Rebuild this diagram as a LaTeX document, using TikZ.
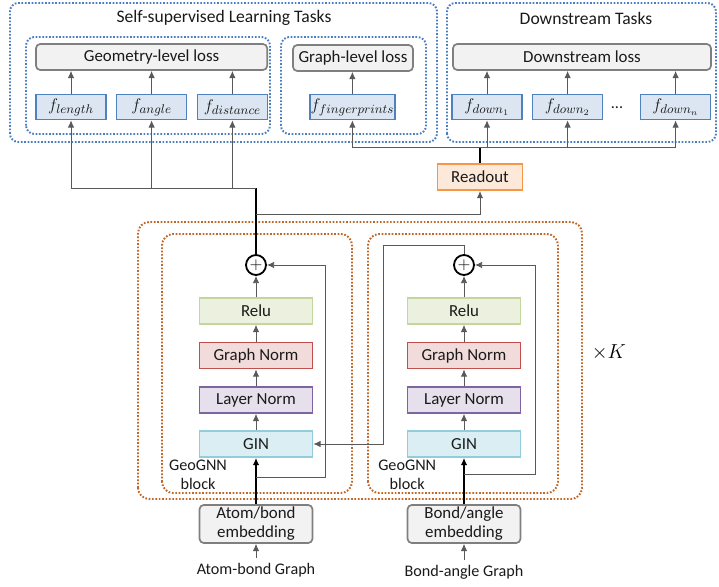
\documentclass[tikz,border=0pt]{standalone}
\usepackage{fontspec}
\setmainfont{Carlito}
\usetikzlibrary{arrows.meta,calc,positioning}
\definecolor{geoink}{HTML}{1A1A1A}
\definecolor{geoline}{HTML}{595959}
\definecolor{geodotblue}{HTML}{4A7EC0}
\definecolor{geodotorange}{HTML}{C0682A}
\definecolor{geolossdraw}{HTML}{7F7F7F}
\definecolor{geolossfill}{HTML}{F2F2F2}
\definecolor{geofdraw}{HTML}{4F81BD}
\definecolor{geoffill}{HTML}{DCE6F2}
\definecolor{georeaddraw}{HTML}{F79646}
\definecolor{georeadfill}{HTML}{FDE9D9}
\definecolor{georeludraw}{HTML}{C3D69B}
\definecolor{georelufill}{HTML}{EBF1DE}
\definecolor{geognormdraw}{HTML}{C0504D}
\definecolor{geognormfill}{HTML}{F2DCDB}
\definecolor{geolnormdraw}{HTML}{8064A2}
\definecolor{geolnormfill}{HTML}{E5E0EC}
\definecolor{geogindraw}{HTML}{92CDDC}
\definecolor{geoginfill}{HTML}{DBEEF4}
\tikzset{
  tasktitle/.style={font=\fontsize{12.5}{14}\selectfont, text=geoink},
  blocktext/.style={font=\fontsize{11.5}{13.5}\selectfont, text=geoink, align=center},
  dotblue/.style={draw=geodotblue, line width=1.4pt, dash pattern=on 1.2pt off 1.2pt,
    rounded corners=6pt},
  dotorange/.style={draw=geodotorange, line width=1.4pt, dash pattern=on 1.2pt off 1.2pt,
    rounded corners=8pt},
  lossbox/.style={draw=geolossdraw, fill=geolossfill, rounded corners=3pt,
    line width=1.2pt, font=\fontsize{12}{14}\selectfont, text=geoink,
    minimum height=.65cm, inner sep=0pt},
  headbox/.style={draw=geofdraw, fill=geoffill, line width=1.2pt, text=geoink,
    font=\fontsize{12.5}{14}\selectfont,
    minimum width=1.75cm, minimum height=.625cm, inner sep=0pt},
  layerbox/.style={line width=1.2pt, font=\fontsize{12}{14}\selectfont, text=geoink,
    minimum width=2.825cm, minimum height=.65cm, inner sep=0pt},
  relubox/.style={layerbox, draw=georeludraw, fill=georelufill},
  gnormbox/.style={layerbox, draw=geognormdraw, fill=geognormfill},
  lnormbox/.style={layerbox, draw=geolnormdraw, fill=geolnormfill},
  ginbox/.style={layerbox, draw=geogindraw, fill=geoginfill},
  readbox/.style={layerbox, draw=georeaddraw, fill=georeadfill, minimum width=2.125cm,
    line width=1.4pt},
  embbox/.style={lossbox, minimum width=2.825cm, minimum height=.95cm, align=center,
    font=\fontsize{12}{13.5}\selectfont},
  plusnode/.style={circle, draw=black, line width=1.3pt, minimum size=.5cm, inner sep=0pt,
    font=\fontsize{13}{14}\selectfont},
  flow/.style={-{Latex[length=1.8mm,width=1.6mm]}, draw=geoline, line width=.6pt},
  plainflow/.style={draw=geoline, line width=.6pt},
  spineflow/.style={draw=black, line width=1.1pt}
}
\begin{document}
\begin{tikzpicture}[x=1cm,y=1cm]
  \useasboundingbox (0,0) rectangle (17.975,14.65);
  % task panels
  \draw[dotblue] (.25,11.1) rectangle (10.925,14.575);
  \draw[dotblue] (11.175,11.1) rectangle (17.9,14.575);
  \draw[dotblue] (.65,11.3) rectangle (6.75,13.725);
  \draw[dotblue] (7.025,11.3) rectangle (10.65,13.725);
  \node[tasktitle] (ssltitle) at (5.6,14.2) {Self-supervised Learning Tasks};
  \node[tasktitle] (dstitle) at (14.65,14.2) {Downstream Tasks};

  \node[lossbox, minimum width=5.78cm] (geoloss) at (3.79,13.225) {Geometry-level loss};
  \node[lossbox, minimum width=3cm] (graphloss) at (8.825,13.2) {Graph-level loss};
  \node[lossbox, minimum width=6.45cm] (dsloss) at (14.55,13.225) {Downstream loss};

  \node[headbox] (flen) at (1.775,11.975) {$f_{length}$};
  \node[headbox] (fang) at (3.79,11.975) {$f_{angle}$};
  \node[headbox] (fdist) at (5.81,11.975) {$f_{distance}$};
  \node[headbox, minimum width=2.125cm] (ffp) at (8.81,11.975) {$f_{fingerprints}$};
  \node[headbox] (fdone) at (12.175,11.975) {$f_{down_1}$};
  \node[headbox] (fdtwo) at (14.19,11.975) {$f_{down_2}$};
  \node[blocktext] (fddots) at (15.425,11.95) {...};
  \node[headbox] (fdn) at (16.89,11.975) {$f_{down_n}$};

  \foreach \h/\l in {flen/geoloss,fang/geoloss,fdist/geoloss,ffp/graphloss,
                     fdone/dsloss,fdtwo/dsloss,fdn/dsloss}
    \draw[flow] (\h.north) -- (\h.north |- \l.south);

  \node[readbox] (readout) at (12,10.225) {Readout};

  % GeoGNN blocks
  \draw[dotorange] (3.45,2.175) rectangle (14.55,9.1);
  \draw[dotorange] (4.05,2.325) rectangle (8.8,8.8);
  \draw[dotorange] (9.2,2.325) rectangle (13.95,8.8);
  \node[font=\fontsize{14}{16}\selectfont] (times) at (15.225,5.85) {$\times K$};

  \node[plusnode] (plusa) at (6.4,8.025) {$+$};
  \node[relubox] (relua) at (6.4,6.875) {Relu};
  \node[gnormbox] (gnorma) at (6.4,5.76) {Graph Norm};
  \node[lnormbox] (lnorma) at (6.4,4.65) {Layer Norm};
  \node[ginbox] (gina) at (6.4,3.55) {GIN};
  \node[blocktext] (blocka) at (4.95,2.775) {GeoGNN\\block};
  \node[embbox] (emba) at (6.4,1.55) {Atom/bond\\embedding};
  \node[blocktext] (grapha) at (6.4,.4) {Atom-bond Graph};

  \node[plusnode] (plusb) at (11.6,8.025) {$+$};
  \node[relubox] (relub) at (11.6,6.875) {Relu};
  \node[gnormbox] (gnormb) at (11.6,5.76) {Graph Norm};
  \node[lnormbox] (lnormb) at (11.6,4.65) {Layer Norm};
  \node[ginbox] (ginb) at (11.6,3.55) {GIN};
  \node[blocktext] (blockb) at (10.18,2.775) {GeoGNN\\block};
  \node[embbox] (embb) at (11.6,1.55) {Bond/angle\\embedding};
  \node[blocktext] (graphb) at (11.6,.35) {Bond-angle Graph};

  \foreach \s in {a,b} {
    \draw[flow] (graph\s) -- (emb\s);
    \draw[flow] (gin\s) -- (lnorm\s);
    \draw[flow] (lnorm\s) -- (gnorm\s);
    \draw[flow] (gnorm\s) -- (relu\s);
    \draw[flow] (relu\s) -- (plus\s);
  }
  \draw[-{Latex[length=1.8mm,width=1.6mm]}, black, line width=.9pt] (emba) -- (gina);
  \draw[-{Latex[length=1.8mm,width=1.6mm]}, black, line width=.9pt] (embb) -- (ginb);

  % residual paths
  \coordinate (resa) at (6.4,2.725);
  \coordinate (resaright) at (8.125,2.725);
  \coordinate (resb) at (11.6,2.8);
  \coordinate (resbright) at (13.375,2.8);
  \draw[flow] (resa) -- (resaright) |- (plusa.east);
  \draw[flow] (resb) -- (resbright) |- (plusb.east);
  \coordinate (crossup) at (9.575,8.525);
  \draw[flow] (plusb.north) |- (crossup) |- (gina.east);

  % outputs to the task heads
  \coordinate (sslhub) at (6.4,9.95);
  \coordinate (rdtap) at (6.4,9.3);
  \coordinate (dsbus) at (12,10.975);
  \draw[spineflow] (plusa.north) -- (sslhub);
  \draw[plainflow] (sslhub) -- (flen.south |- sslhub);
  \foreach \h in {flen,fang,fdist}
    \draw[flow] (\h.south |- sslhub) -- (\h.south);
  \draw[flow] (rdtap) -| (readout.south);
  \draw[spineflow] (readout.north) -- (dsbus);
  \draw[plainflow] (ffp.south |- dsbus) -- (fdn.south |- dsbus);
  \foreach \h in {ffp,fdone,fdtwo,fdn}
    \draw[flow] (\h.south |- dsbus) -- (\h.south);
\end{tikzpicture}
\end{document}
